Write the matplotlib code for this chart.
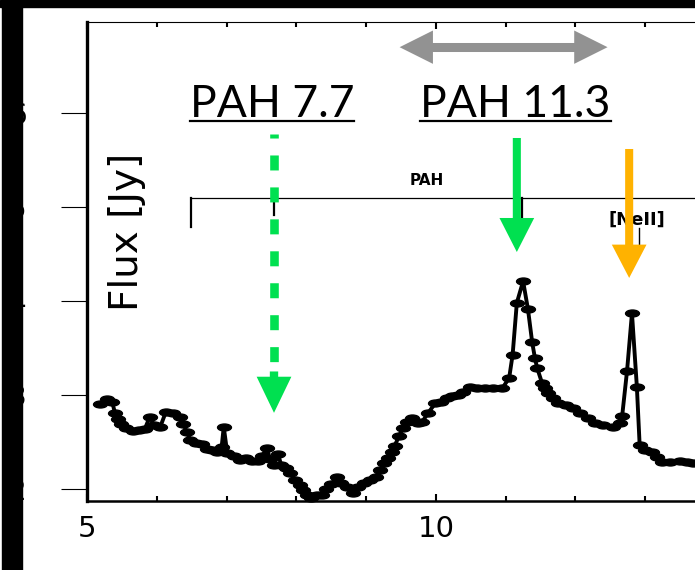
import matplotlib
matplotlib.use("Agg")
import matplotlib.pyplot as plt
from matplotlib.markers import MarkerStyle
from matplotlib.patches import Rectangle
from matplotlib.transforms import Affine2D

# IRS spectrum (micron, Jy)
wave = [5.19, 5.29, 5.36, 5.40, 5.44, 5.49, 5.56, 5.66, 5.75, 5.83,
        5.90, 5.96, 6.05, 6.13, 6.23, 6.33, 6.38, 6.43, 6.48, 6.56,
        6.65, 6.72, 6.79, 6.86, 6.93, 6.96, 7.01, 7.11, 7.19, 7.28,
        7.36, 7.45, 7.51, 7.58, 7.62, 7.68, 7.74, 7.78, 7.85, 7.91,
        7.98, 8.05, 8.09, 8.15, 8.21, 8.30, 8.37, 8.42, 8.50, 8.58,
        8.64, 8.73, 8.81, 8.88, 8.97, 9.05, 9.14, 9.20, 9.26, 9.31,
        9.37, 9.41, 9.47, 9.53, 9.58, 9.66, 9.74, 9.80, 9.89, 9.99,
        10.07, 10.16, 10.23, 10.32, 10.39, 10.49, 10.59, 10.70, 10.82, 10.95,
        11.05, 11.10, 11.16, 11.25, 11.32, 11.38, 11.42, 11.45, 11.52, 11.56,
        11.60, 11.68, 11.75, 11.86, 11.96, 12.06, 12.18, 12.28, 12.39, 12.54,
        12.64, 12.67, 12.74, 12.81, 12.88, 12.92, 13.00, 13.10, 13.17, 13.24,
        13.35, 13.50, 13.60, 13.68]
flux = [2.90, 2.96, 2.93, 2.81, 2.74, 2.69, 2.65, 2.62, 2.63, 2.64,
        2.77, 2.68, 2.66, 2.82, 2.81, 2.77, 2.69, 2.61, 2.52, 2.49,
        2.48, 2.43, 2.41, 2.39, 2.45, 2.66, 2.38, 2.35, 2.31, 2.33,
        2.30, 2.30, 2.35, 2.44, 2.32, 2.26, 2.37, 2.26, 2.22, 2.17,
        2.10, 2.04, 1.99, 1.94, 1.90, 1.94, 1.94, 2.00, 2.05, 2.13,
        2.06, 2.02, 1.96, 2.02, 2.06, 2.10, 2.13, 2.20, 2.28, 2.33,
        2.39, 2.46, 2.56, 2.65, 2.71, 2.76, 2.70, 2.71, 2.81, 2.91,
        2.93, 2.97, 2.99, 3.00, 3.03, 3.09, 3.07, 3.07, 3.07, 3.07,
        3.18, 3.43, 3.98, 4.21, 3.91, 3.56, 3.39, 3.29, 3.13, 3.07,
        3.02, 2.97, 2.91, 2.89, 2.86, 2.81, 2.76, 2.70, 2.68, 2.66,
        2.70, 2.78, 3.26, 3.87, 3.09, 2.47, 2.41, 2.39, 2.34, 2.29,
        2.29, 2.30, 2.29, 2.28]

xticks = [5, 10]
xminor = [6, 7, 8, 9, 11, 12, 13]
yticks = [2, 3, 4, 5, 6]

# feature positions
pah77 = 7.68
pah113 = 11.16
neii = 12.77

W, H = 695, 570
plt.rcParams["lines.scale_dashes"] = False
fig = plt.figure(figsize=(W / 100, H / 100), dpi=100)
ax = fig.add_axes([87 / W, 69 / H, 628 / W, 479 / H])
ax.set_xlim(5, 14)
ax.set_ylim(1.872, 6.968)

blob = MarkerStyle("o", transform=Affine2D().scale(1.0, 0.5))
ax.plot(wave, flux, color="k", lw=2.8, marker=blob, ms=10, clip_on=False, zorder=3)

# axes styling
ax.set_xticks(xticks)
ax.set_xticks(xminor, minor=True)
ax.set_yticks(yticks)
ax.tick_params(axis="x", which="both", direction="in", top=True, bottom=True,
               labelsize=21, pad=10, width=1.5)
ax.tick_params(axis="x", which="major", length=5)
ax.tick_params(axis="x", which="minor", length=3.5)
ax.tick_params(axis="y", which="major", direction="out", length=18.5, width=0.8,
               pad=25, labelsize=20)
for lab in ax.get_xticklabels() + ax.get_yticklabels():
    lab.set_family("DejaVu Sans")
ax.spines["left"].set_linewidth(2.4)
ax.spines["bottom"].set_linewidth(1.8)
ax.spines["top"].set_linewidth(0.8)
ax.spines["right"].set_visible(False)

ax.text(5.573, 4.734, "Flux [Jy]", rotation=90, ha="center", va="center",
        fontsize=28, family="DejaVu Sans")

# line identifications
ax.plot([6.49, 14], [5.096, 5.096], color="k", lw=0.9, clip_on=False)
ax.plot([6.49, 6.49], [5.096, 4.787], color="k", lw=1.6)
ax.plot([pah77, pah77], [5.096, 4.915], color="k", lw=1.6)
ax.plot([11.23, 11.23], [5.096, 4.862], color="k", lw=1.6)
ax.text(9.87, 5.234, "PAH", ha="center", va="baseline", fontsize=11,
        family="DejaVu Sans", fontweight="bold")
ax.text(12.88, 4.81, "[NeII]", ha="center", va="baseline", fontsize=13,
        family="DejaVu Sans", fontweight="bold", clip_on=False)
ax.plot([12.91, 12.91], [4.78, 4.566], color="k", lw=1.0)

# labels with underline
t77 = ax.text(7.65, 5.957, "PAH 7.7", ha="center", va="baseline", fontsize=32,
              family="Lato")
t113 = ax.text(11.14, 5.957, "PAH 11.3", ha="center", va="baseline", fontsize=32,
               family="Lato")
fig.canvas.draw()
rend = fig.canvas.get_renderer()
inv = ax.transData.inverted()
for t in (t77, t113):
    bb = t.get_window_extent(rend)
    x0 = inv.transform((bb.x0, 0))[0]
    x1 = inv.transform((bb.x1, 0))[0]
    ax.plot([x0, x1], [5.914, 5.914], color="k", lw=1.6, clip_on=False)


def arrow(x0, y0, x1, y1, color, hl, hw, tw):
    ax.annotate("", xy=(x1, y1), xytext=(x0, y0),
                arrowprops=dict(arrowstyle="simple,head_length=%g,head_width=%g,tail_width=%g"
                                % (hl, hw, tw),
                                color=color, lw=0, shrinkA=0, shrinkB=0,
                                mutation_scale=10),
                annotation_clip=False)


green = "#00e050"
orange = "#ffb200"
gray = "#929292"

# 7.7 micron: dashed shaft with head
ax.plot([pah77, pah77], [5.777, 3.2], color=green, lw=6.2, solid_capstyle="butt",
        dash_capstyle="butt", ls=(7.9, (10.8, 12.2)))
arrow(pah77, 3.25, pah77, 2.81, green, 2.6, 2.5, 0.6)

# 11.3 micron and [NeII]
arrow(pah113, 5.734, pah113, 4.521, green, 2.45, 2.5, 0.58)
arrow(neii, 5.617, neii, 4.245, orange, 2.4, 2.5, 0.58)

# double-headed gray arrow: one shaft, two heads
ax.plot([9.75, 12.2], [6.70, 6.70], color=gray, lw=6.5, solid_capstyle="butt",
        clip_on=False)
arrow(9.9, 6.70, 9.48, 6.70, gray, 2.4, 2.4, 0.65)
arrow(12.05, 6.70, 12.46, 6.70, gray, 2.4, 2.4, 0.65)

# black frame bands
fig.add_artist(Rectangle((2 / W, 0), 20 / W, 1, transform=fig.transFigure,
                         color="k", zorder=10))
fig.add_artist(Rectangle((0, 1 - 7 / H), 1, 7 / H, transform=fig.transFigure,
                         color="k", zorder=10))

fig.savefig("out.png", dpi=100)
